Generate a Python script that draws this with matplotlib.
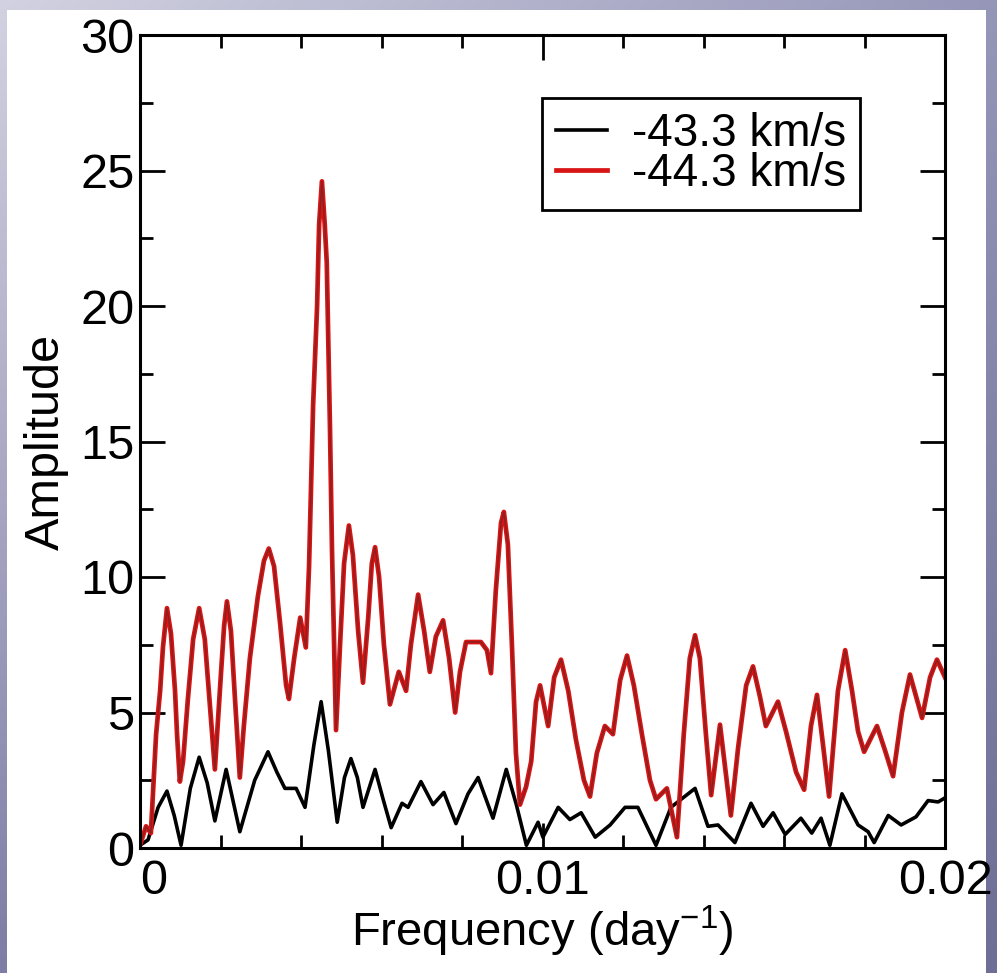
import numpy as np
import matplotlib.pyplot as plt
from matplotlib import font_manager
from matplotlib.patches import Rectangle

# font: narrow helvetica look if available
names = {f.name for f in font_manager.fontManager.ttflist}
fam = 'Liberation Sans Narrow' if 'Liberation Sans Narrow' in names else 'Liberation Sans'
plt.rcParams['font.family'] = [fam, 'DejaVu Sans']
plt.rcParams['mathtext.fontset'] = 'custom'
plt.rcParams['mathtext.rm'] = fam

# red: -44.3 km/s
freq_red = [0.0, 0.00015, 0.00027, 0.0004, 0.0005, 0.00057, 0.00067, 0.00077, 0.00087, 0.00092,
            0.00099, 0.00107, 0.00119, 0.00132, 0.00147, 0.00161, 0.00174, 0.00186, 0.00201,
            0.00209, 0.00216, 0.00226, 0.00236, 0.00248, 0.00258, 0.00273, 0.00293, 0.00308,
            0.0032, 0.00333, 0.00348, 0.00363, 0.0037, 0.00383, 0.00398, 0.00412, 0.0042,
            0.0043, 0.0044, 0.00445, 0.00452, 0.00459, 0.00464, 0.00472, 0.00477, 0.00487,
            0.00497, 0.00507, 0.00519, 0.00529, 0.00542, 0.00554, 0.00567, 0.00576, 0.00584,
            0.00594, 0.00606, 0.00621, 0.00643, 0.00661, 0.00673, 0.00691, 0.00706, 0.0072,
            0.00735, 0.00753, 0.00768, 0.00783, 0.00795, 0.0081, 0.00847, 0.00862, 0.00872,
            0.00884, 0.00897, 0.00904, 0.00914, 0.00924, 0.00934, 0.00944, 0.00959, 0.00972,
            0.00984, 0.00994, 0.01014, 0.01029, 0.01046, 0.01064, 0.01083, 0.01103, 0.01118,
            0.01135, 0.01155, 0.01175, 0.01193, 0.0121, 0.01227, 0.01247, 0.01267, 0.01282,
            0.01309, 0.01334, 0.01351, 0.01366, 0.01379, 0.01391, 0.01406, 0.01419, 0.01441,
            0.01468, 0.01486, 0.01506, 0.01523, 0.0154, 0.01555, 0.01585, 0.01605, 0.0163,
            0.0165, 0.01667, 0.01682, 0.01697, 0.01712, 0.01734, 0.01752, 0.01769, 0.01784,
            0.01799, 0.01831, 0.01851, 0.01871, 0.01893, 0.01913, 0.01928, 0.01943, 0.01963,
            0.0198, 0.02]
amp_red = [0.1, 0.8, 0.55, 4.2, 5.8, 7.4, 8.85, 7.9, 5.8, 4.2,
           2.45, 3.2, 5.5, 7.7, 8.85, 7.7, 5.2, 2.9, 6.4,
           8.2, 9.1, 8.0, 5.5, 2.6, 4.5, 7.0, 9.3, 10.6,
           11.05, 10.4, 8.3, 6.0, 5.5, 7.0, 8.5, 7.4, 10.4,
           16.3, 20.0, 23.0, 24.6, 23.0, 21.6, 15.5, 11.0, 4.35,
           7.5, 10.5, 11.9, 10.8, 8.0, 6.1, 8.5, 10.5, 11.1,
           10.0, 7.5, 5.3, 6.5, 5.8, 7.5, 9.35, 8.0, 6.5,
           7.8, 8.4, 7.0, 5.0, 6.5, 7.6, 7.6, 7.3, 6.45,
           9.5, 12.0, 12.4, 11.2, 7.5, 3.5, 1.6, 2.25, 3.2,
           5.4, 6.0, 4.5, 6.3, 6.95, 5.8, 4.0, 2.5, 1.9,
           3.5, 4.5, 4.2, 6.2, 7.1, 6.0, 4.2, 2.5, 1.8,
           2.2, 0.4, 4.2, 7.0, 7.85, 7.0, 4.2, 1.95, 4.55,
           1.2, 3.7, 6.0, 6.7, 5.6, 4.5, 5.4, 4.3, 2.8,
           2.15, 4.5, 5.65, 3.8, 1.9, 5.8, 7.3, 5.8, 4.3,
           3.55, 4.5, 3.6, 2.65, 5.0, 6.4, 5.6, 4.8, 6.3,
           6.95, 6.3]

# black: -43.3 km/s
freq_blk = [0.0, 0.0002, 0.00045, 0.00067, 0.00085, 0.00102, 0.00125, 0.00147, 0.00167,
            0.00186, 0.00214, 0.00248, 0.00285, 0.00318, 0.0034, 0.0036, 0.00388, 0.0041,
            0.00432, 0.0045, 0.00468, 0.0049, 0.00508, 0.00524, 0.0054, 0.00554, 0.00584,
            0.00604, 0.00624, 0.00651, 0.00666, 0.00698, 0.00728, 0.00755, 0.00785, 0.00815,
            0.0084, 0.00877, 0.0091, 0.00935, 0.0096, 0.00989, 0.01001, 0.01039, 0.01068,
            0.01096, 0.01131, 0.01168, 0.01205, 0.01237, 0.01282, 0.01319, 0.01379, 0.01411,
            0.01436, 0.01478, 0.01518, 0.01548, 0.01573, 0.01603, 0.01642, 0.01669, 0.01692,
            0.01714, 0.01744, 0.01784, 0.01809, 0.01824, 0.01859, 0.01891, 0.01928, 0.01958,
            0.01983, 0.02]
amp_blk = [0.1, 0.3, 1.5, 2.1, 1.2, 0.1, 2.2, 3.35, 2.4,
           1.0, 2.9, 0.6, 2.5, 3.55, 2.8, 2.2, 2.2, 1.5,
           3.8, 5.4, 3.6, 0.95, 2.6, 3.3, 2.6, 1.5, 2.9,
           1.8, 0.75, 1.65, 1.5, 2.45, 1.6, 2.05, 0.9, 2.0,
           2.6, 1.1, 2.9, 1.6, 0.1, 0.95, 0.4, 1.5, 1.05,
           1.3, 0.4, 0.85, 1.5, 1.5, 0.1, 1.5, 2.2, 0.8,
           0.85, 0.2, 1.65, 0.8, 1.3, 0.5, 1.1, 0.55, 1.1,
           0.1, 2.0, 0.85, 0.6, 0.2, 1.2, 0.85, 1.15, 1.75,
           1.7, 1.85]

xticks = [0, 0.01, 0.02]
xtick_labels = ['0', '0.01', '0.02']

W, H = 997, 973
fig = plt.figure(figsize=(W / 100, H / 100), dpi=100)

# slide background gradient + white panel
u = np.linspace(0, 1, W)[None, :, None]
v = np.linspace(0, 1, H)[:, None, None]
tl = np.array([210, 210, 225]) / 255
tr = np.array([150, 150, 185]) / 255
bl = np.array([125, 125, 165]) / 255
br = np.array([110, 110, 150]) / 255
grad = tl * (1 - u) * (1 - v) + tr * u * (1 - v) + bl * (1 - u) * v + br * u * v
fig.figimage(grad, xo=0, yo=0, zorder=0)
fig.patches.append(Rectangle((7 / W, 0), (986 - 7) / W, (H - 10) / H,
                             transform=fig.transFigure, facecolor='white',
                             edgecolor='none', zorder=0.5))

ax = fig.add_axes([140 / W, 1 - 848 / H, 805 / W, 813 / H])
ax.set_zorder(2)

ax.plot(freq_blk, amp_blk, color='black', lw=2.6, solid_joinstyle='round', label='-43.3 km/s')
ax.plot(freq_red, amp_red, color='#d81414', lw=3.4, solid_joinstyle='round', label='-44.3 km/s')
ax.plot(freq_red, amp_red, color='#8a2020', lw=1.1, solid_joinstyle='round')

ax.set_xlim(0, 0.02)
ax.set_ylim(0, 30)
ax.set_xticks(xticks, xtick_labels)
ax.set_xticks(np.arange(0, 0.0201, 0.002), minor=True)
ax.set_yticks(range(0, 31, 5))
ax.set_yticks(np.arange(0, 30.1, 2.5), minor=True)
ax.tick_params(which='both', direction='in', top=True, right=True, width=2, labelsize=35)
ax.tick_params(which='major', length=18)
ax.tick_params(which='minor', length=9.5)
ax.tick_params(axis='x', pad=8)
ax.tick_params(axis='y', pad=4)
for s in ax.spines.values():
    s.set_linewidth(2.2)
# first x label sits just right of the axis corner
ax.get_xticklabels()[0].set_horizontalalignment('left')

ax.set_xlabel('Frequency (day$^{-1}$)', fontsize=34, labelpad=0)
ax.set_ylabel('Amplitude', fontsize=35, labelpad=8)

leg = ax.legend(loc='upper right', bbox_to_anchor=(0.894, 0.9225), borderaxespad=0,
                fontsize=33, handlelength=1.1, handletextpad=0.55, borderpad=0.3,
                labelspacing=-0.08, fancybox=False, framealpha=1, edgecolor='black')
leg.get_frame().set_linewidth(2)

fig.savefig('out.png', dpi=100)
